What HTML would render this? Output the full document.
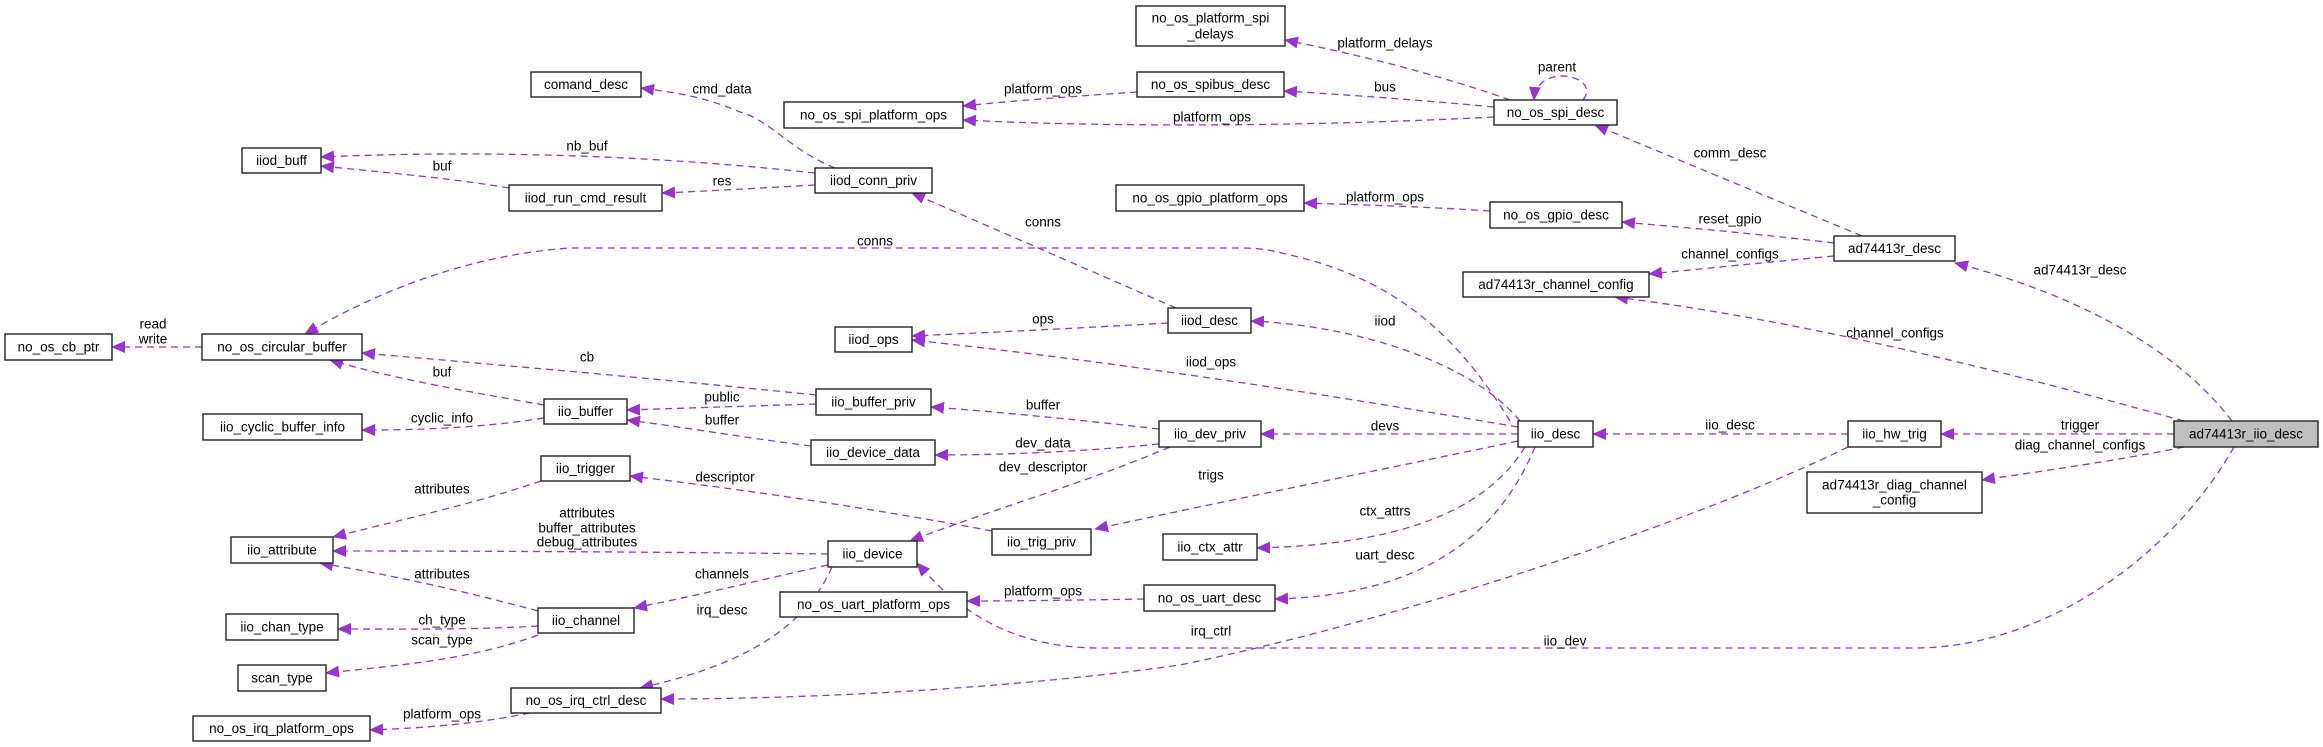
<!DOCTYPE html>
<html><head><meta charset="utf-8"><style>
html,body{margin:0;padding:0;background:#fff;}
svg{display:block;font-family:"Liberation Sans","DejaVu Sans",sans-serif;}
.b{fill:#fff;stroke:#222;stroke-width:1.4}
.t{font-size:13.5px;fill:#000;text-anchor:middle;dominant-baseline:central}
.l{font-size:13.5px;fill:#000;text-anchor:middle;dominant-baseline:central}
.e{fill:none;stroke:#9a32cd;stroke-width:1.3;stroke-dasharray:7,5;marker-end:url(#a)}
</style></head><body>
<svg width="2323" height="747" viewBox="0 0 2323 747" xmlns="http://www.w3.org/2000/svg">
<defs><marker id="a" markerUnits="userSpaceOnUse" markerWidth="14" markerHeight="12" refX="13" refY="6" orient="auto"><path d="M0,0 L14,6 L0,12 z" fill="#9a32cd"/></marker></defs>

<path class="e" d="M202,347 L112,347"/>
<path class="e" d="M509,188 C450,178 380,172 321,166"/>
<path class="e" d="M815,173 C650,155 480,150 321,157"/>
<path class="e" d="M815,185 C760,188 710,191 662,193"/>
<path class="e" d="M835,168 C790,150 770,120 740,112 C700,95 670,92 641,88"/>
<path class="e" d="M1510,421 C1460,340 1400,280 1290,255 C1270,250 1260,248 1240,248 L570,248 C470,255 380,290 305,334"/>
<path class="e" d="M1176,308 L912,193"/>
<path class="e" d="M816,395 C650,378 500,365 362,353"/>
<path class="e" d="M544,405 C470,392 390,378 330,360"/>
<path class="e" d="M544,418 C480,428 420,430 362,430"/>
<path class="e" d="M816,404 C750,406 690,408 627,410"/>
<path class="e" d="M811,446 C740,437 690,428 627,420"/>
<path class="e" d="M1159,429 C1080,420 1000,412 931,407"/>
<path class="e" d="M1159,444 C1080,452 1000,455 935,455"/>
<path class="e" d="M1170,447 C1080,485 990,510 910,541"/>
<path class="e" d="M1518,434 L1261,434"/>
<path class="e" d="M1520,421 C1470,360 1350,325 1251,321"/>
<path class="e" d="M1518,427 C1300,390 1100,360 912,340"/>
<path class="e" d="M1168,323 C1080,328 1000,332 912,336"/>
<path class="e" d="M1518,441 C1380,470 1230,500 1095,529"/>
<path class="e" d="M992,531 C880,510 750,490 630,476"/>
<path class="e" d="M1525,447 C1480,520 1380,545 1257,548"/>
<path class="e" d="M1535,447 C1500,530 1430,595 1275,599"/>
<path class="e" d="M1144,599 C1080,600 1020,601 967,601"/>
<path class="e" d="M541,481 C470,505 400,520 333,537"/>
<path class="e" d="M828,554 C660,552 500,551 333,551"/>
<path class="e" d="M538,611 C460,590 390,575 320,563"/>
<path class="e" d="M538,626 C470,630 400,629 338,629"/>
<path class="e" d="M538,635 C470,660 400,665 326,673"/>
<path class="e" d="M828,565 C760,580 700,595 634,608"/>
<path class="e" d="M832,567 C800,640 720,670 640,688"/>
<path class="e" d="M530,713 C470,725 420,728 370,730"/>
<path class="e" d="M1848,447 C1700,520 1400,620 1180,665 C1000,690 800,699 661,699"/>
<path class="e" d="M2234,447 C2170,560 2040,648 1915,648 L1100,648 C1000,648 950,600 917,563"/>
<path class="e" d="M2174,434 L1941,434"/>
<path class="e" d="M1848,434 L1593,434"/>
<path class="e" d="M2184,447 C2120,460 2050,470 1982,480"/>
<path class="e" d="M2184,421 C2000,370 1800,320 1615,297"/>
<path class="e" d="M2232,421 C2170,340 2060,290 1955,263"/>
<path class="e" d="M1862,236 L1595,125"/>
<path class="e" d="M1834,243 C1760,234 1690,228 1622,222"/>
<path class="e" d="M1834,256 C1770,262 1710,268 1649,274"/>
<path class="e" d="M1490,211 C1430,207 1370,205 1304,203"/>
<path class="e" d="M1510,100 C1440,75 1360,55 1285,40"/>
<path class="e" d="M1494,107 C1420,100 1350,95 1284,91"/>
<path class="e" d="M1137,92 C1080,96 1020,100 963,106"/>
<path class="e" d="M1494,117 C1300,127 1100,127 963,120"/>
<path class="e" d="M1583,100 C1595,85 1575,75 1560,76 C1545,77 1535,85 1534,100"/>

<text class="l" x="153" y="324">read</text><text class="l" x="153" y="339">write</text>
<text class="l" x="442" y="166">buf</text>
<text class="l" x="587" y="146">nb_buf</text>
<text class="l" x="722" y="181">res</text>
<text class="l" x="722" y="89">cmd_data</text>
<text class="l" x="875" y="241">conns</text>
<text class="l" x="1043" y="222">conns</text>
<text class="l" x="587" y="357">cb</text>
<text class="l" x="442" y="372">buf</text>
<text class="l" x="442" y="418">cyclic_info</text>
<text class="l" x="722" y="397">public</text>
<text class="l" x="722" y="420">buffer</text>
<text class="l" x="1043" y="405">buffer</text>
<text class="l" x="1043" y="443">dev_data</text>
<text class="l" x="1043" y="467">dev_descriptor</text>
<text class="l" x="1385" y="426">devs</text>
<text class="l" x="1385" y="321">iiod</text>
<text class="l" x="1211" y="362">iiod_ops</text>
<text class="l" x="1043" y="319">ops</text>
<text class="l" x="1211" y="475">trigs</text>
<text class="l" x="725" y="477">descriptor</text>
<text class="l" x="1385" y="511">ctx_attrs</text>
<text class="l" x="1385" y="555">uart_desc</text>
<text class="l" x="1043" y="591">platform_ops</text>
<text class="l" x="442" y="489">attributes</text>
<text class="l" x="587" y="513">attributes</text>
<text class="l" x="587" y="528">buffer_attributes</text>
<text class="l" x="587" y="542">debug_attributes</text>
<text class="l" x="442" y="574">attributes</text>
<text class="l" x="442" y="620">ch_type</text>
<text class="l" x="442" y="640">scan_type</text>
<text class="l" x="722" y="574">channels</text>
<text class="l" x="722" y="610">irq_desc</text>
<text class="l" x="442" y="714">platform_ops</text>
<text class="l" x="1211" y="631">irq_ctrl</text>
<text class="l" x="1565" y="641">iio_dev</text>
<text class="l" x="2080" y="425">trigger</text>
<text class="l" x="1730" y="425">iio_desc</text>
<text class="l" x="2080" y="445">diag_channel_configs</text>
<text class="l" x="1895" y="333">channel_configs</text>
<text class="l" x="2080" y="270">ad74413r_desc</text>
<text class="l" x="1730" y="153">comm_desc</text>
<text class="l" x="1730" y="219">reset_gpio</text>
<text class="l" x="1730" y="254">channel_configs</text>
<text class="l" x="1385" y="197">platform_ops</text>
<text class="l" x="1385" y="43">platform_delays</text>
<text class="l" x="1385" y="87">bus</text>
<text class="l" x="1043" y="89">platform_ops</text>
<text class="l" x="1212" y="117">platform_ops</text>
<text class="l" x="1557" y="67">parent</text>

<g>
<rect class="b" x="531" y="72" width="110" height="25"/><text class="t" x="586" y="84.5">comand_desc</text>
<rect class="b" x="242" y="148" width="79" height="25"/><text class="t" x="281.5" y="160.5">iiod_buff</text>
<rect class="b" x="509" y="185" width="153" height="26"/><text class="t" x="585.5" y="198">iiod_run_cmd_result</text>
<rect class="b" x="5" y="334" width="107" height="26"/><text class="t" x="58.5" y="347">no_os_cb_ptr</text>
<rect class="b" x="202" y="334" width="160" height="26"/><text class="t" x="282" y="347">no_os_circular_buffer</text>
<rect class="b" x="544" y="399" width="83" height="25"/><text class="t" x="585.5" y="411.5">iio_buffer</text>
<rect class="b" x="203" y="414" width="159" height="26"/><text class="t" x="282.5" y="427">iio_cyclic_buffer_info</text>
<rect class="b" x="541" y="456" width="89" height="25"/><text class="t" x="585.5" y="468.5">iio_trigger</text>
<rect class="b" x="231" y="537" width="102" height="26"/><text class="t" x="282" y="550">iio_attribute</text>
<rect class="b" x="538" y="608" width="96" height="25"/><text class="t" x="586" y="620.5">iio_channel</text>
<rect class="b" x="226" y="614" width="112" height="26"/><text class="t" x="282" y="627">iio_chan_type</text>
<rect class="b" x="238" y="665" width="88" height="26"/><text class="t" x="282" y="678">scan_type</text>
<rect class="b" x="511" y="688" width="150" height="25"/><text class="t" x="586" y="700.5">no_os_irq_ctrl_desc</text>
<rect class="b" x="193" y="716" width="177" height="25"/><text class="t" x="281.5" y="728.5">no_os_irq_platform_ops</text>
<rect class="b" x="1136" y="6" width="149" height="40"/><text class="t" x="1210.5" y="18">no_os_platform_spi</text><text class="t" x="1210.5" y="34">_delays</text>
<rect class="b" x="1137" y="72" width="147" height="25"/><text class="t" x="1210.5" y="84.5">no_os_spibus_desc</text>
<rect class="b" x="784" y="102" width="179" height="26"/><text class="t" x="873.5" y="115">no_os_spi_platform_ops</text>
<rect class="b" x="1494" y="100" width="123" height="25"/><text class="t" x="1555.5" y="112.5">no_os_spi_desc</text>
<rect class="b" x="815" y="168" width="117" height="25"/><text class="t" x="873.5" y="180.5">iiod_conn_priv</text>
<rect class="b" x="1116" y="185" width="188" height="26"/><text class="t" x="1210" y="198">no_os_gpio_platform_ops</text>
<rect class="b" x="1490" y="202" width="132" height="26"/><text class="t" x="1556" y="215">no_os_gpio_desc</text>
<rect class="b" x="1463" y="272" width="186" height="25"/><text class="t" x="1556" y="284.5">ad74413r_channel_config</text>
<rect class="b" x="1168" y="308" width="83" height="25"/><text class="t" x="1209.5" y="320.5">iiod_desc</text>
<rect class="b" x="835" y="327" width="77" height="25"/><text class="t" x="873.5" y="339.5">iiod_ops</text>
<rect class="b" x="816" y="389" width="115" height="26"/><text class="t" x="873.5" y="402">iio_buffer_priv</text>
<rect class="b" x="811" y="440" width="124" height="25"/><text class="t" x="873" y="452.5">iio_device_data</text>
<rect class="b" x="1159" y="421" width="102" height="26"/><text class="t" x="1210" y="434">iio_dev_priv</text>
<rect class="b" x="1518" y="421" width="75" height="26"/><text class="t" x="1555.5" y="434">iio_desc</text>
<rect class="b" x="992" y="529" width="99" height="26"/><text class="t" x="1041.5" y="542">iio_trig_priv</text>
<rect class="b" x="828" y="541" width="89" height="26"/><text class="t" x="872.5" y="554">iio_device</text>
<rect class="b" x="1163" y="534" width="94" height="26"/><text class="t" x="1210" y="547">iio_ctx_attr</text>
<rect class="b" x="780" y="592" width="187" height="25"/><text class="t" x="873.5" y="604.5">no_os_uart_platform_ops</text>
<rect class="b" x="1144" y="585" width="131" height="26"/><text class="t" x="1209.5" y="598">no_os_uart_desc</text>
<rect class="b" x="1834" y="236" width="121" height="25"/><text class="t" x="1894.5" y="248.5">ad74413r_desc</text>
<rect class="b" x="1848" y="421" width="93" height="26"/><text class="t" x="1894.5" y="434">iio_hw_trig</text>
<rect x="2174" y="421" width="144" height="26" fill="#bfbfbf" stroke="#222" stroke-width="1.4"/><text class="t" x="2246" y="434">ad74413r_iio_desc</text>
<rect class="b" x="1807" y="472" width="175" height="41"/><text class="t" x="1894.5" y="485">ad74413r_diag_channel</text><text class="t" x="1894.5" y="500">_config</text>
</g>
</svg>
</body></html>
